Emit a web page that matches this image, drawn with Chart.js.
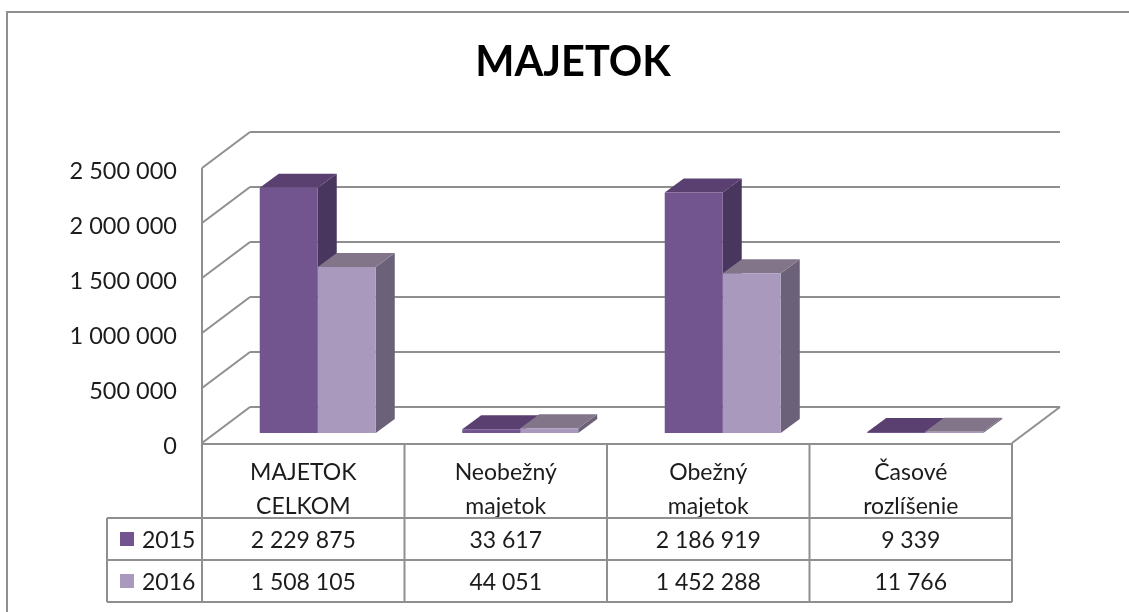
<!DOCTYPE html>
<html>
<head>
<meta charset="utf-8">
<title>MAJETOK</title>
<script src="https://cdn.jsdelivr.net/npm/chart.js@4/dist/chart.umd.min.js"></script>
<style>
  html, body { margin: 0; padding: 0; background: #fff; }
  canvas { display: block; }
</style>
</head>
<body>
<canvas id="assetChart" width="1129" height="612"></canvas>
<script>
// Data
const categories = [['MAJETOK', 'CELKOM'], ['Neobežný', 'majetok'], ['Obežný', 'majetok'], ['Časové', 'rozlíšenie']];
const values2015 = [2229875, 33617, 2186919, 9339];
const values2016 = [1508105, 44051, 1452288, 11766];
const seriesNames = ['2015', '2016'];
const frontColors = ['#72558f', '#a899bd'];
const sideColors = ['#49365f', '#6b6279'];
const topColors = ['#5a4070', '#827489'];

const LINE = '#8f8f8f';
const TEXT = '#1c1c1c';
const FONT = 'Lato';

// wall depth and bar depth of the fake 3D box
const WALL = { dx: 48, dy: -36 };
const BAR_SHIFT = { dx: 14.5, dy: -10 };
const BAR_DEPTH = { dx: 19, dy: -14 };

// thousands separated by a space, like the sheet
function fmt(v) {
  return String(v).replace(/\B(?=(\d{3})+(?!\d))/g, ' ');
}

function line(ctx, x1, y1, x2, y2) {
  ctx.beginPath();
  ctx.moveTo(x1, y1);
  ctx.lineTo(x2, y2);
  ctx.stroke();
}

function poly(ctx, pts, color) {
  ctx.fillStyle = color;
  ctx.beginPath();
  pts.forEach((p, i) => (i ? ctx.lineTo(p[0], p[1]) : ctx.moveTo(p[0], p[1])));
  ctx.closePath();
  ctx.fill();
}

const box3d = {
  id: 'box3d',
  afterLayout(chart) {
    // title sits a bit right of the canvas centre
    chart.titleBlock.left = 0;
    chart.titleBlock.right = 1146;
  },
  beforeDatasetsDraw(chart) {
    const { ctx, chartArea: a, scales: { y } } = chart;
    ctx.save();
    ctx.strokeStyle = LINE;
    ctx.lineWidth = 2;
    y.ticks.forEach(t => {
      const py = y.getPixelForValue(t.value);
      line(ctx, a.left, py, a.left + WALL.dx, py + WALL.dy);
      line(ctx, a.left + WALL.dx, py + WALL.dy, a.right + WALL.dx, py + WALL.dy);
    });
    line(ctx, a.left, a.top, a.left, a.bottom);
    line(ctx, a.right, a.bottom, a.right + WALL.dx, a.bottom + WALL.dy);

    // side and top faces first, the fronts come from the library afterwards
    ctx.translate(BAR_SHIFT.dx, BAR_SHIFT.dy);
    [0, 1].forEach(i => {
      chart.getDatasetMeta(i).data.forEach(bar => {
        const l = bar.x - bar.width / 2, r = bar.x + bar.width / 2;
        const { dx, dy } = BAR_DEPTH;
        poly(ctx, [[r, bar.y], [r + dx, bar.y + dy], [r + dx, bar.base + dy], [r, bar.base]], sideColors[i]);
        poly(ctx, [[l, bar.y], [l + dx, bar.y + dy], [r + dx, bar.y + dy], [r, bar.y]], topColors[i]);
      });
    });
    ctx.restore();
  },
  beforeDatasetDraw(chart) {
    chart.ctx.save();
    chart.ctx.translate(BAR_SHIFT.dx, BAR_SHIFT.dy);
  },
  afterDatasetDraw(chart) {
    chart.ctx.restore();
  },
  afterDraw(chart) {
    const { ctx, chartArea: a, scales: { x } } = chart;
    const rows = [518, 560, 602];
    const tableLeft = 107;
    const step = (a.right - a.left) / categories.length;
    ctx.save();

    // outer frame, open at right and bottom
    ctx.strokeStyle = LINE;
    ctx.lineWidth = 2;
    line(ctx, 7, 612, 7, 12);
    line(ctx, 6, 12, 1129, 12);

    // data table grid
    line(ctx, a.left - 1, a.bottom + 1, a.right + 1, a.bottom + 1);
    rows.forEach(r => line(ctx, tableLeft, r, a.right, r));
    line(ctx, tableLeft, rows[0], tableLeft, rows[2]);
    for (let c = 0; c <= categories.length; c++) {
      line(ctx, a.left + c * step, a.bottom, a.left + c * step, rows[2]);
    }

    // data table text
    ctx.font = '23px ' + FONT;
    ctx.textBaseline = 'middle';
    [values2015, values2016].forEach((vals, s) => {
      const cy = (rows[s] + rows[s + 1]) / 2;
      ctx.fillStyle = frontColors[s];
      ctx.fillRect(120, cy - 7, 14, 14);
      ctx.fillStyle = TEXT;
      ctx.textAlign = 'left';
      ctx.fillText(seriesNames[s], 142, cy + 2);
      ctx.textAlign = 'center';
      vals.forEach((v, c) => ctx.fillText(fmt(v), x.getPixelForTick(c), cy + 2));
    });
    ctx.restore();
  }
};

new Chart(document.getElementById('assetChart'), {
  type: 'bar',
  plugins: [box3d],
  data: {
    labels: categories,
    datasets: [
      { label: seriesNames[0], data: values2015, backgroundColor: frontColors[0], clip: false },
      { label: seriesNames[1], data: values2016, backgroundColor: frontColors[1], clip: false }
    ]
  },
  options: {
    responsive: false,
    animation: false,
    categoryPercentage: 0.573,
    barPercentage: 1,
    layout: { padding: { left: 0, right: 117, top: 0, bottom: 94 } },
    plugins: {
      legend: { display: false },
      tooltip: { enabled: false },
      title: {
        display: true,
        text: 'MAJETOK',
        color: '#000',
        font: { family: FONT, size: 41.5, weight: 'bold', lineHeight: 1.2 },
        padding: { top: 38, bottom: 80.2 }
      }
    },
    scales: {
      x: {
        grid: { display: false, drawTicks: false },
        border: { display: false },
        afterFit(scale) { scale.height = 75; },
        ticks: {
          color: TEXT,
          padding: 12,
          maxRotation: 0,
          autoSkip: false,
          font: { family: FONT, size: 23, lineHeight: 1.5 }
        }
      },
      y: {
        min: 0,
        max: 2500000,
        grid: { display: false, drawTicks: false },
        border: { display: false },
        afterFit(scale) { scale.width = 202; },
        ticks: {
          stepSize: 500000,
          color: TEXT,
          padding: 25,
          labelOffset: 3,
          font: { family: FONT, size: 23.5 },
          callback: v => fmt(v)
        }
      }
    }
  }
});
</script>
</body>
</html>
